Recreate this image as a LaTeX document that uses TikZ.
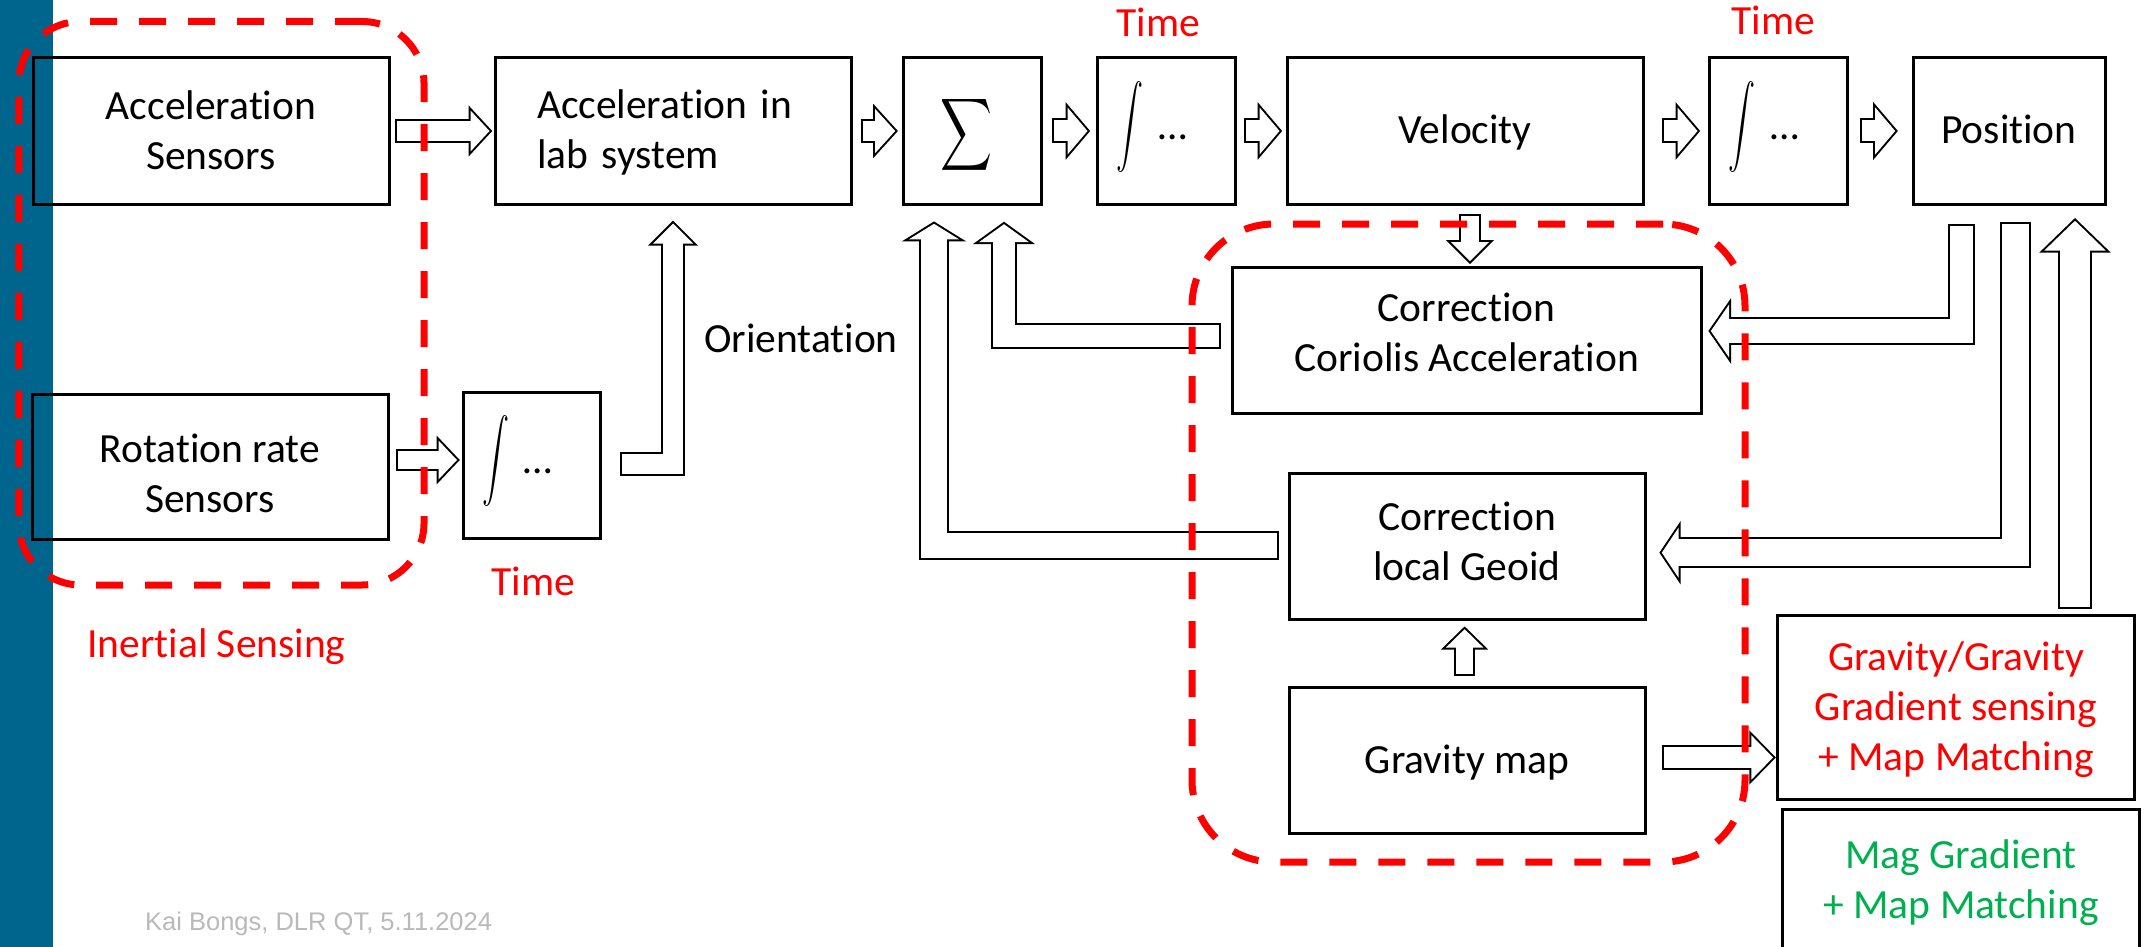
\documentclass[tikz,border=0pt]{standalone}
\usepackage{fontspec}
\usepackage{graphicx}
\setmainfont{Carlito}[Ligatures=NoCommon]
\newfontfamily\footfont{Liberation Sans}
\usetikzlibrary{calc}

\definecolor{dlrblue}{RGB}{0,101,140}
\definecolor{pptred}{RGB}{255,0,0}
\definecolor{pptgreen}{RGB}{0,176,80}
\definecolor{footgray}{RGB}{185,185,185}

\newcommand\bigtext{\fontsize{41.5pt}{50pt}\selectfont}
% line struts: height 37pt, depth 11pt (keeps the cap height centred)
\newcommand\sr{\rule[-11pt]{0pt}{48pt}}
\newcommand\srtop[1]{\rule[-11pt]{0pt}{\dimexpr48pt+#1\relax}}
\newcommand\srbot[1]{\rule[-\dimexpr11pt+#1\relax]{0pt}{\dimexpr48pt+#1\relax}}

\def\alw{2pt}% outline width of the block arrows

% straight block arrow: tail, tip, shaft half width, head half width, head length
\newcommand\straightblock[5]{%
  \coordinate (ba-t) at (#1);
  \coordinate (ba-p) at (#2);
  \coordinate (ba-b) at ($(ba-p)!#5pt!(ba-t)$);
  \coordinate (ba-ti) at ($(ba-t)!\alw!(ba-p)$);
  \coordinate (ba-be) at ($(ba-b)!-\alw!(ba-t)$);
  \coordinate (ba-h1) at ($(ba-b)!#4pt!90:(ba-p)$);
  \coordinate (ba-h2) at ($(ba-b)!#4pt!-90:(ba-p)$);
  \draw[line width={2*#3pt+2*\alw}] (ba-t) -- (ba-b);
  \draw[line width={2*\alw}, line join=miter] (ba-h1) -- (ba-p) -- (ba-h2) -- cycle;
  \draw[white, line width={2*#3pt}] (ba-ti) -- (ba-be);
  \fill[white] (ba-h1) -- (ba-p) -- (ba-h2) -- cycle;
}
% bent block arrow: tail, tip, corner, shaft half width, head half width, head length
\newcommand\elbowblock[6]{%
  \coordinate (ba-t) at (#1);
  \coordinate (ba-p) at (#2);
  \coordinate (ba-c) at (#3);
  \coordinate (ba-b) at ($(ba-p)!#6pt!(ba-c)$);
  \coordinate (ba-ti) at ($(ba-t)!\alw!(ba-c)$);
  \coordinate (ba-be) at ($(ba-b)!-\alw!(ba-c)$);
  \coordinate (ba-h1) at ($(ba-b)!#5pt!90:(ba-p)$);
  \coordinate (ba-h2) at ($(ba-b)!#5pt!-90:(ba-p)$);
  \draw[line width={2*#4pt+2*\alw}, line join=miter] (ba-t) -- (ba-c) -- (ba-b);
  \draw[line width={2*\alw}, line join=miter] (ba-h1) -- (ba-p) -- (ba-h2) -- cycle;
  \draw[white, line width={2*#4pt}, line join=miter] (ba-ti) -- (ba-c) -- (ba-be);
  \fill[white] (ba-h1) -- (ba-p) -- (ba-h2) -- cycle;
}

\begin{document}
\begin{tikzpicture}[x=1pt,y=-1pt,
  box/.style={draw, line width=3pt, inner sep=0pt, font=\bigtext, align=center},
  grp/.style={draw=pptred, line width=7pt, dash pattern=on 27pt off 22pt, inner sep=0pt},
  lbl/.style={font=\bigtext, inner sep=0pt, anchor=base},
  sym/.style={inner sep=0pt}]

\useasboundingbox (0,0) rectangle (2147,947);
\fill[dlrblue] (0,0) rectangle (53,947);

% ---- blocks
\node[box, minimum width=356pt, minimum height=146pt] (accsens) at (211,131)
  {\sr Acceleration\\\sr Sensors};
\node[box, minimum width=356pt, minimum height=145pt] (rotsens) at (210,466.5)
  {\srtop{15pt}Rotation rate\\\sr Sensors};
\node[box, minimum width=356pt, minimum height=146pt, text width=272pt, align=left] (acclab) at (673,131)
  {\noindent\sr Acceleration in\\\sr lab system};
\node[box, minimum width=138pt, minimum height=146pt] (sum) at (972,131) {};
\node[box, minimum width=138pt, minimum height=146pt] (int1) at (1166,131) {};
\node[box, minimum width=356pt, minimum height=146pt] (vel) at (1465,131) {\sr Velocity};
\node[box, minimum width=138pt, minimum height=146pt] (int2) at (1778,131) {};
\node[box, minimum width=192pt, minimum height=146pt] (pos) at (2009,131) {\sr Position};
\node[box, minimum width=137.5pt, minimum height=146pt] (intr) at (531.75,465) {};
\node[box, minimum width=469pt, minimum height=145.6pt] (cor) at (1466.5,340.5)
  {\sr Correction\\\srbot{14.6pt}Coriolis Acceleration};
\node[box, minimum width=356pt, minimum height=146pt] (geoid) at (1467,546.3)
  {\sr Correction\\\srbot{7pt}local Geoid};
\node[box, minimum width=356pt, minimum height=146pt] (gmap) at (1467,760.3) {\sr Gravity map};
\node[box, minimum width=356.3pt, minimum height=184pt, text=pptred] (gsens) at (1956,707)
  {\sr Gravity/Gravity\\\sr Gradient sensing\\\sr + Map Matching};
\node[box, minimum width=356.3pt, minimum height=142pt, text=pptgreen] (mag) at (1961,880)
  {\sr Mag Gradient\\\sr + Map Matching};

% ---- operator symbols
\node[sym] (sumsym) at ([xshift=-6pt,yshift=-4.3pt]sum.center)
  {\resizebox*{52pt}{81pt}{$\displaystyle\sum$}};
\foreach \b in {int1,int2,intr}{
  \node[sym] (\b-sym) at ([xshift=-36pt,yshift=4pt]\b.center)
    {\resizebox*{27pt}{91pt}{$\displaystyle\int$}};
  \node[lbl] (\b-dots) at ([xshift=6.5pt,yshift=-8.5pt]\b.center) {…};
}

% ---- block arrows
\straightblock{[xshift=4.75pt]accsens.east}{[xshift=-4pt]acclab.west}{10}{20.5}{19}
\straightblock{[xshift=6pt,yshift=6.5pt]rotsens.east}{[xshift=-4.5pt,yshift=5pt]intr.west}{8.75}{19.5}{18.5}
\straightblock{[xshift=8pt]acclab.east}{[xshift=-6.3pt]sum.west}{10.3}{22}{20}
\straightblock{[xshift=9pt]sum.east}{[xshift=-8pt]int1.west}{10.5}{23.5}{20}
\straightblock{[xshift=7pt]int1.east}{[xshift=-6pt]vel.west}{10.5}{23.5}{20}
\straightblock{[xshift=17pt]vel.east}{[xshift=-10pt]int2.west}{10.5}{23.5}{20}
\straightblock{[xshift=11pt]int2.east}{[xshift=-16.3pt]pos.west}{10.5}{23.5}{20}
\elbowblock{[xshift=17.5pt,yshift=1pt]intr.east}{[yshift=-18pt]acclab.south}{ba-p |- ba-t}{10}{20}{20}
\straightblock{[xshift=5pt,yshift=-8.5pt]vel.south}{[xshift=3.5pt,yshift=5pt]cor.north}{9.3}{19}{19}
\elbowblock{[xshift=-9.6pt,yshift=4.5pt]cor.west}{[xshift=32pt,yshift=-18.7pt]sum.south}{ba-p |- ba-t}{11}{25}{18}
\elbowblock{[xshift=-9pt,yshift=0.8pt]geoid.west}{[xshift=-38pt,yshift=-18.3pt]sum.south}{ba-p |- ba-t}{12.8}{25}{15.5}
\elbowblock{[xshift=-47.8pt,yshift=-18.3pt]pos.south}{[xshift=8.3pt,yshift=9.5pt]cor.east}{ba-t |- ba-p}{11.7}{26.7}{18.4}
\elbowblock{[xshift=6.8pt,yshift=-16pt]pos.south}{[xshift=15.3pt,yshift=-6.4pt]geoid.east}{ba-t |- ba-p}{13.5}{25}{16.7}
\straightblock{[xshift=119pt,yshift=5pt]gsens.north}{[xshift=66pt,yshift=-15.3pt]pos.south}{14.7}{30.7}{29.7}
\straightblock{[xshift=-2.4pt,yshift=9.6pt]gmap.north}{[xshift=-2.4pt,yshift=-8.4pt]geoid.south}{8.8}{18.7}{18.3}
\straightblock{[xshift=15.3pt,yshift=2.8pt]gmap.east}{[xshift=-3.3pt,yshift=-50.5pt]gsens.west}{10.8}{22.2}{21.7}

% ---- dashed groupings
\node[grp, minimum width=405.25pt, minimum height=563.5pt, rounded corners=62pt] (inertialgrp) at (221.4,303.25) {};
\node[grp, minimum width=553pt, minimum height=638pt, rounded corners=82pt] (gravgrp) at (1468.5,543) {};

% ---- labels
\node[lbl, text=pptred] (time1) at (1158.3,36.7) {Time};
\node[lbl, text=pptred] (time2) at (1773.5,35) {Time};
\node[lbl, text=pptred] (time3) at (533.5,595) {Time};
\node[lbl] (orient) at (801,352) {Orientation};
\node[lbl, text=pptred] (inertlbl) at (216.5,657) {Inertial Sensing};
\node[inner sep=0pt, anchor=base west, text=footgray, font=\footfont\fontsize{25.5pt}{30pt}\selectfont] (footer)
  at (145,930) {Kai Bongs, DLR QT, 5.11.2024};
\end{tikzpicture}
\end{document}
